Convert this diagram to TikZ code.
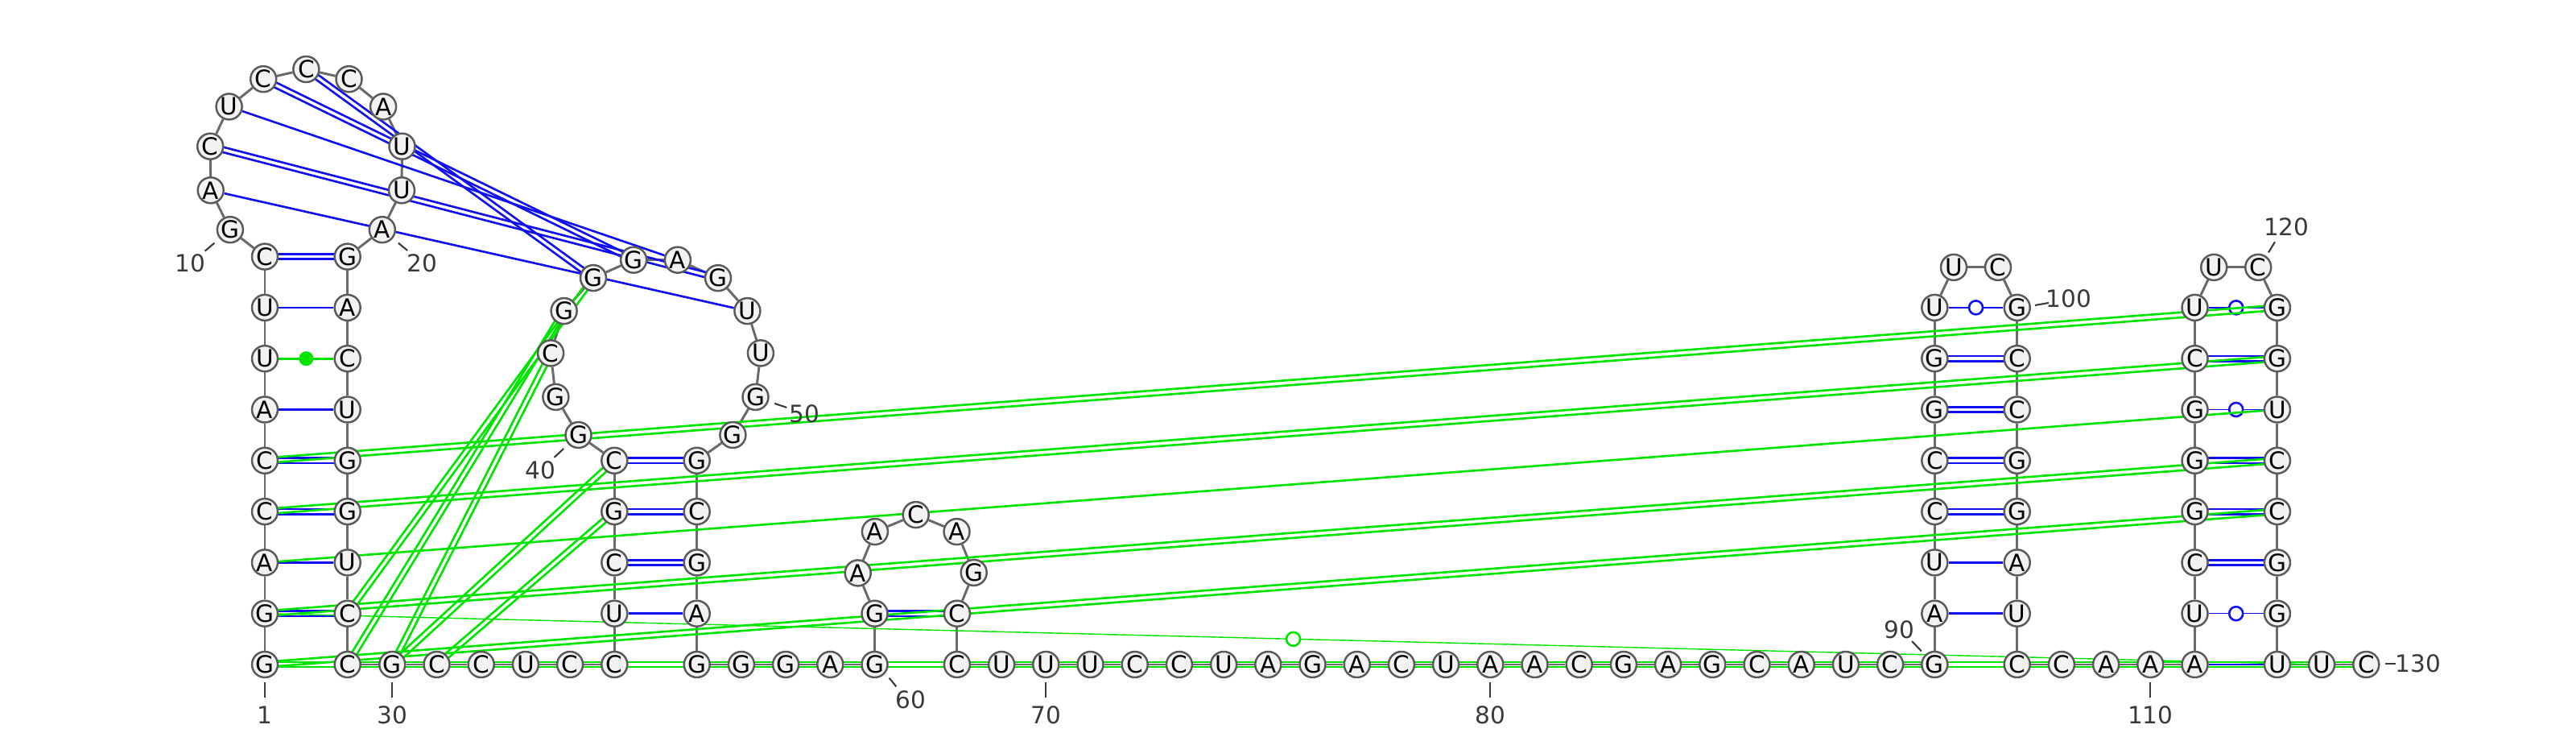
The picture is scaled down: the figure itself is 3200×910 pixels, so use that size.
\documentclass[tikz,border=0pt]{standalone}
\usepackage{fontspec}
\setmainfont{DejaVu Sans}
\usetikzlibrary{calc}
\pgfdeclarelayer{bg}
\pgfsetlayers{bg,main}
\definecolor{ntfill}{HTML}{F2F2F2}
\definecolor{ntdraw}{HTML}{5A5A5A}
\definecolor{bbgrey}{HTML}{6A6A6A}
\definecolor{pblue}{HTML}{1010F0}
\definecolor{pgreen}{HTML}{00E400}
\definecolor{lblgrey}{HTML}{3A3A3A}
\newcommand\dbl[3]{%
  \draw[#3] ($(#1)!0.9pt!90:(#2)$) -- ($(#2)!0.9pt!-90:(#1)$);
  \draw[#3] ($(#1)!0.9pt!-90:(#2)$) -- ($(#2)!0.9pt!90:(#1)$);}
\newcommand\wob[3]{%
  \draw[#3] (#1) -- (#2);
  \node[circle, draw=#3, fill=white, line width=0.75pt, minimum size=0.17cm, inner sep=0pt] at ($(#1)!0.5!(#2)$) {};}
\begin{document}
\begin{tikzpicture}[x=0.01cm,y=-0.01cm,
  nt/.style={circle, draw=ntdraw, fill=ntfill, line width=0.7pt, minimum size=0.32cm, inner sep=0pt, font=\fontsize{8.4}{9}\selectfont},
  bb/.style={draw=bbgrey, line width=0.85pt},
  bp/.style={draw=pblue, line width=0.75pt},
  gp/.style={draw=pgreen, line width=0.75pt},
  lbl/.style={text=lblgrey, font=\fontsize{8.4}{9}\selectfont, inner sep=0pt},
  tick/.style={draw=lblgrey, line width=0.6pt}]
\useasboundingbox (0,0) rectangle (3200,910);
% nucleotides
\foreach \i/\x/\y/\b in {
 1/329/825/G, 2/329/761.7/G, 3/329/698.4/A, 4/329/635.1/C, 5/329/571.8/C,
 6/329/508.5/A, 7/329/445.2/U, 8/329/381.9/U, 9/329/318.6/C,
 10/285.9/285.2/G, 11/261.7/236.3/A, 12/261.2/181.7/C, 13/284.6/132.4/U,
 14/327.2/98.2/C, 15/380.35/86/C, 16/433.5/98.2/C, 17/476.1/132.4/A,
 18/499.5/181.7/U, 19/499/236.3/U, 20/474.8/285.2/A,
 21/431.7/318.6/G, 22/431.7/381.9/A, 23/431.7/445.2/C, 24/431.7/508.5/U,
 25/431.7/571.8/G, 26/431.7/635.1/G, 27/431.7/698.4/U, 28/431.7/761.7/C,
 29/431.7/825/C, 30/487.3/825/G, 31/542.5/825/C, 32/597.7/825/C,
 33/652.9/825/U, 34/708.1/825/C, 35/763.3/825/C, 36/763.3/761.7/U,
 37/763.3/698.4/C, 38/763.3/635.1/G, 39/763.3/571.8/C,
 40/718.5/540.0/G, 41/690.4/492.9/G, 42/684.1/438.4/C, 43/700.6/386.1/G,
 44/737.0/345.1/G, 45/787.1/322.7/G, 46/841.9/322.7/A, 47/892.0/345.2/G,
 48/928.4/386.1/U, 49/944.9/438.4/U, 50/938.5/492.9/G, 51/910.4/540.0/G,
 52/865.7/571.8/G, 53/865.7/635.1/C, 54/865.7/698.4/G, 55/865.7/761.7/A,
 56/865.7/825/G, 57/920.9/825/G, 58/976.1/825/G, 59/1031.3/825/A,
 60/1086.5/825/G, 61/1086.5/761.7/G, 62/1065.7/711.4/A, 63/1086.9/660.1/A,
 64/1137.7/639.1/C, 65/1188.5/660.1/A, 66/1209.7/710.9/G, 67/1188.9/761.7/C,
 68/1188.9/825/C, 69/1244.1/825/U, 70/1299.3/825/U, 71/1354.5/825/U,
 72/1409.7/825/C, 73/1464.9/825/C, 74/1520.1/825/U, 75/1575.3/825/A,
 76/1630.5/825/G, 77/1685.7/825/A, 78/1740.9/825/C, 79/1796.1/825/U,
 80/1851.3/825/A, 81/1906.5/825/A, 82/1961.7/825/C, 83/2016.9/825/G,
 84/2072.1/825/A, 85/2127.3/825/G, 86/2182.5/825/C, 87/2237.7/825/A,
 88/2292.9/825/U, 89/2348.1/825/C, 90/2403.3/825/G,
 91/2403.3/761.7/A, 92/2403.3/698.4/U, 93/2403.3/635.1/C, 94/2403.3/571.8/C,
 95/2403.3/508.5/G, 96/2403.3/445.2/G, 97/2403.3/381.9/U,
 98/2427.0/331.9/U, 99/2482.0/331.9/C,
 100/2505.7/381.9/G, 101/2505.7/445.2/C, 102/2505.7/508.5/C, 103/2505.7/571.8/G,
 104/2505.7/635.1/G, 105/2505.7/698.4/A, 106/2505.7/761.7/U, 107/2505.7/825/C,
 108/2560.9/825/C, 109/2616.1/825/A, 110/2671.3/825/A, 111/2726.5/825/A,
 112/2726.5/761.7/U, 113/2726.5/698.4/C, 114/2726.5/635.1/G, 115/2726.5/571.8/G,
 116/2726.5/508.5/G, 117/2726.5/445.2/C, 118/2726.5/381.9/U,
 119/2750.2/331.9/U, 120/2805.2/331.9/C,
 121/2828.9/381.9/G, 122/2828.9/445.2/G, 123/2828.9/508.5/U, 124/2828.9/571.8/C,
 125/2828.9/635.1/C, 126/2828.9/698.4/G, 127/2828.9/761.7/G, 128/2828.9/825/U,
 129/2884.1/825/U, 130/2939.3/825/C}
 \node[nt] (n\i) at (\x,\y) {\b};
% position labels
\foreach \k/\x/\y/\t in {1/329/888/1, 30/487.3/888/30, 70/1299.3/888/70, 80/1851.3/888/80,
  110/2671.3/888/110, 60/1131/869/60, 10/236.7/326.7/10, 20/524/326.7/20,
  40/671.7/584/40, 50/999/514/50, 90/2359.3/781.7/90, 100/2570/371/100,
  120/2840.2/281.7/120, 130/3004/824/130}
 \node[lbl] (l\k) at (\x,\y) {\t};
\foreach \k/\xa/\ya/\xb/\yb in {1/329/847/329/866, 30/487.3/847/487.3/866,
  70/1299.3/847/1299.3/866, 80/1851.3/847/1851.3/866, 110/2671.3/847/2671.3/866,
  60/1104.6/841.7/1113.3/852.3, 10/266.3/301.7/254.6/311.7, 20/494.9/301.7/506.1/311,
  40/700.2/557/688.5/567.9, 50/962.2/500.9/977.4/506, 90/2386.7/808.3/2375/796,
  100/2528/379/2545/376, 120/2817.9/313.5/2825.9/300.4, 130/2963/824/2976/824}
 {\coordinate (ta\k) at (\xa,\ya); \coordinate (tb\k) at (\xb,\yb);
  \draw[tick] (ta\k) -- (tb\k);}
\begin{pgfonlayer}{bg}
% backbone
\foreach \i [evaluate=\i as \j using int(\i+1)] in {1,...,129}
 \draw[bb] (n\i) -- (n\j);
% canonical pairs (blue)
\dbl{n9}{n21}{bp} \draw[bp] (n8) -- (n22); \draw[bp] (n6) -- (n24);
\dbl{n5}{n25}{bp} \dbl{n4}{n26}{bp} \draw[bp] (n3) -- (n27); \dbl{n2}{n28}{bp}
\dbl{n39}{n52}{bp} \dbl{n38}{n53}{bp} \dbl{n37}{n54}{bp} \draw[bp] (n36) -- (n55);
\dbl{n61}{n67}{bp}
\dbl{n96}{n101}{bp} \dbl{n95}{n102}{bp} \dbl{n94}{n103}{bp} \dbl{n93}{n104}{bp}
\draw[bp] (n92) -- (n105); \draw[bp] (n91) -- (n106);
\dbl{n117}{n122}{bp} \dbl{n115}{n124}{bp} \dbl{n114}{n125}{bp} \dbl{n113}{n126}{bp}
\draw[bp] (n111) -- (n128);
% pseudoknot
\draw[bp] (n11) -- (n48); \dbl{n12}{n47}{bp} \draw[bp] (n13) -- (n46);
\dbl{n14}{n45}{bp} \dbl{n15}{n44}{bp}
% wobble pairs
\wob{n97}{n100}{pblue} \wob{n118}{n121}{pblue} \wob{n116}{n123}{pblue} \wob{n112}{n127}{pblue}
% alternative pairs (green)
\dbl{n1}{n130}{gp}
\dbl{n1}{n125}{gp} \dbl{n2}{n124}{gp} \draw[gp] (n3) -- (n123);
\dbl{n4}{n122}{gp} \dbl{n5}{n121}{gp}
\dbl{n30}{n39}{gp} \dbl{n31}{n38}{gp}
\dbl{n28}{n44}{gp} \dbl{n29}{n43}{gp} \dbl{n30}{n42}{gp}
\wob{n2}{n129}{pgreen}
\draw[gp] (n7) -- (n23);
\fill[pgreen] ($(n7)!0.5!(n23)$) circle (9);
\end{pgfonlayer}
\end{tikzpicture}
\end{document}
